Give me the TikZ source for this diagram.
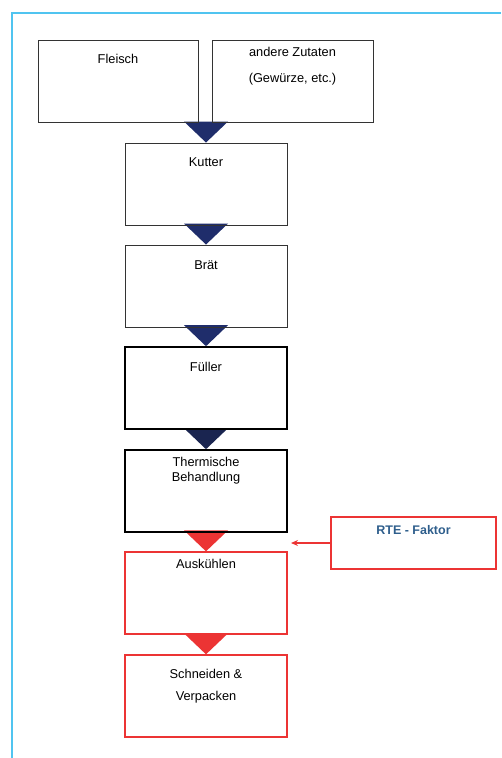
\documentclass[tikz,border=0pt]{standalone}
\usepackage{fontspec}
\setmainfont{Liberation Sans}
\usepackage{tikz}
\usetikzlibrary{positioning, arrows.meta, calc, backgrounds}

\definecolor{frameblue}{RGB}{80,196,240}
\definecolor{navy}{RGB}{31,45,107}
\definecolor{darknavy}{RGB}{26,37,80}
\definecolor{rtered}{RGB}{236,52,52}
\definecolor{rteblue}{RGB}{46,94,140}

\tikzset{
  box/.style={draw=black!80, line width=0.9pt, minimum width=162pt, minimum height=82pt, inner sep=0pt},
  boldbox/.style={box, draw=black, line width=1.6pt},
  redbox/.style={box, draw=rtered, line width=1.3pt},
  txt/.style={font=\fontsize{12.8}{15}\selectfont, inner sep=0pt, align=center}
}
% triangle pointing down onto a box
\newcommand{\flowtri}[2]{%
  \fill[#2] ([xshift=-22pt,yshift=21pt]#1.north) -- ([xshift=22pt,yshift=21pt]#1.north) -- (#1.north) -- cycle;}

\begin{document}
\begin{tikzpicture}[x=1pt, y=-1pt]
\useasboundingbox (0,0) rectangle (501,758);
% outer frame
\draw[frameblue, line width=1.4pt] (12,758) -- (12,13) -- (501,13);
% input boxes
\node[box, minimum width=160pt] (fleisch) at (118,81.5) {};
\node[box, minimum width=161pt] (zutaten) at (292.5,81.5) {};
\node[txt] (tfleisch) at ([yshift=-19pt]fleisch.north) {Fleisch};
\node[txt] (tzutaten1) at ([yshift=-12pt]zutaten.north) {andere Zutaten};
\node[txt] (tzutaten2) at ([yshift=-39pt]zutaten.north) {(Gewürze, etc.)};
% process chain
\node[box] (kutter) at (206,184) {};
\node[box] (braet) at (206,286) {};
\node[boldbox] (fueller) at (206,388) {};
\node[boldbox] (thermisch) at (206,491) {};
\node[redbox] (auskuehlen) at (206,593) {};
\node[redbox] (verpacken) at (206,696) {};
\node[txt] (tkutter) at ([yshift=-20pt]kutter.north) {Kutter};
\node[txt] (tbraet) at ([yshift=-21pt]braet.north) {Brät};
\node[txt] (tfueller) at ([yshift=-21pt]fueller.north) {Füller};
\node[txt] (tthermisch) at ([yshift=-21pt]thermisch.north) {Thermische\\Behandlung};
\node[txt] (tauskuehlen) at ([yshift=-13pt]auskuehlen.north) {Auskühlen};
\node[txt] (tverpacken1) at ([yshift=-20pt]verpacken.north) {Schneiden \&};
\node[txt] (tverpacken2) at ([yshift=-43pt]verpacken.north) {Verpacken};
% triangles behind the box borders
\begin{scope}[on background layer]
\flowtri{kutter}{navy}
\flowtri{braet}{navy}
\flowtri{fueller}{navy}
\flowtri{thermisch}{darknavy}
\flowtri{auskuehlen}{rtered}
\flowtri{verpacken}{rtered}
\end{scope}
% RTE factor
\node[redbox, minimum width=165pt, minimum height=52pt] (rte) at (413.5,543) {};
\node[txt, font=\fontsize{12.5}{15}\selectfont\bfseries, text=rteblue] (trte) at ([yshift=-14pt]rte.north) {RTE - Faktor};
\coordinate (rtetip) at (291,543);
\draw[rtered, line width=1.4pt, -{Stealth[length=7pt, width=6pt]}] (rte.west) -- (rtetip);
\end{tikzpicture}
\end{document}
